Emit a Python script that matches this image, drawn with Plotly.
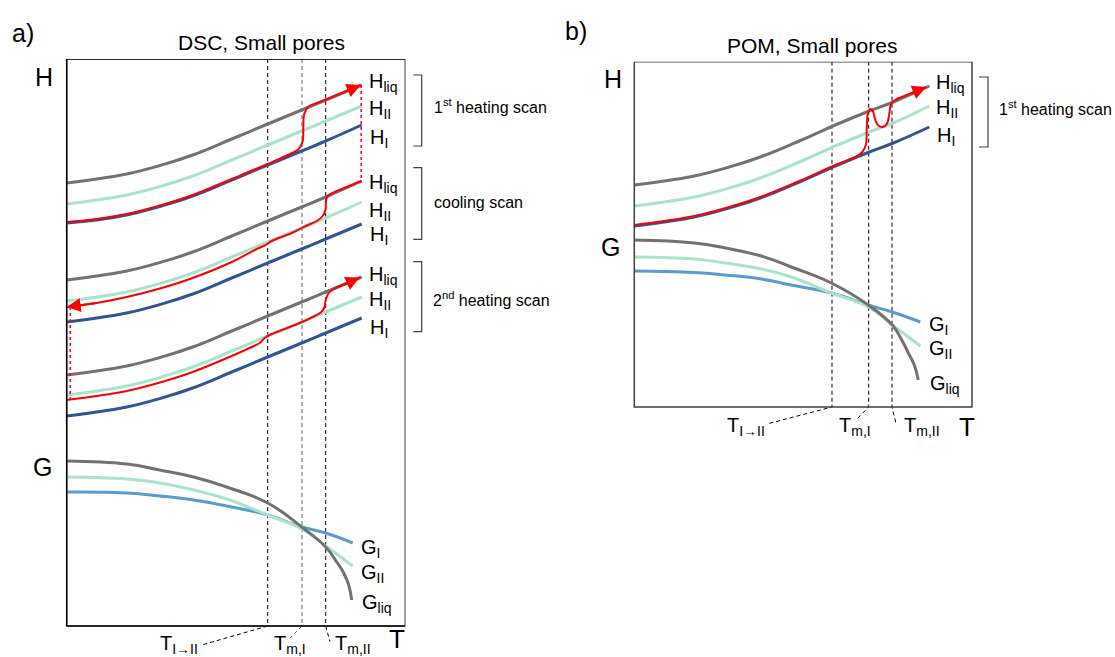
import plotly.graph_objects as go

W, H = 1115, 657
FONT = "Arial, Liberation Sans, sans-serif"

# ---------------- data: panel a (DSC) ----------------
T_H = [0, 30, 60, 95, 126, 165, 201, 235, 259, 295]
a1_liq = [443, 447, 452, 461, 471, 487, 502, 516, 526, 541]
a1_II = [422, 426, 431, 440, 450, 466, 481, 495, 505, 520]
a1_I = [403, 406, 411, 420, 430, 446, 461, 475, 485, 501]
a2_liq = [346, 350, 355, 364, 374, 390, 405, 419, 429, 445]
a2_II = [325, 329, 334, 343, 353, 369, 384, 398, 408, 424]
a2_I = [304, 308, 313, 322, 332, 348, 363, 377, 387, 402]
a3_liq = [251, 255, 260, 269, 279, 295, 310, 324, 334, 349]
a3_II = [231, 235, 240, 249, 259, 275, 290, 304, 314, 329]
a3_I = [210, 214, 219, 228, 238, 254, 269, 283, 293, 308]

# red measured paths (1st heating, cooling, 2nd heating)
T_r1 = [0, 30, 60, 95, 126, 165, 201, 220, 232, 236, 236.6, 237.5, 241.6, 251.6, 276.6, 294]
r1 = [404, 407, 412, 421, 431, 447, 462, 470.5, 477, 485, 499, 512, 519.3, 523.5, 533.5, 541]
T_r2 = [295, 280, 266, 261, 259.3, 258.8, 256, 250, 240, 225, 205, 198, 190, 165, 126, 95, 60, 30, 0]
r2 = [445, 439, 433, 430, 425, 416, 410, 405, 400.5, 393, 385, 380.5, 377, 364, 348, 338, 329, 323, 319]
T_r3 = [0, 30, 60, 95, 126, 165, 185, 193, 198, 203, 218, 233, 248, 254, 257.5, 259, 262, 268, 280, 293]
r3 = [226, 230, 235, 244, 254, 270, 279, 283, 288, 291, 297, 303, 310, 313.5, 318, 326, 333, 337.5, 342.5, 348.5]
jump_T = [294.5, 3.5]

T_Gliq_a = [0, 60, 93, 127, 160, 201, 235, 259, 270, 277, 282, 285]
Gliq_a = [165, 162, 156, 149, 139, 123, 99, 79, 64, 53, 41, 26]
T_Gs_a = [0, 60, 93, 127, 160, 201, 235, 259, 286]
GII_a = [149, 147, 143, 136, 127, 111, 97, 80, 60]
GI_a = [134, 133, 130, 126, 120, 111, 99, 93, 83]

Ta = [201, 235.3, 259]
Ta_lab_T = [135, 223.3, 263.3]
Ta_lab_Y = [-19, -12.3, -15.7]
Ya_top = 567

# ---------------- data: panel b (POM) ----------------
b_liq = [222, 226, 231, 240, 250, 266, 282, 296, 305, 321]
b_II = [201, 205, 210, 219, 229, 245, 261, 275, 284, 301]
b_I = [181, 185, 190, 199, 209, 225, 241, 255, 264, 280]
T_rb = [0, 30, 60, 95, 126, 165, 200, 214, 222, 228, 231.5, 232.5, 233.5, 236, 238.5,
        241, 244, 248.5, 252.5, 255, 256.5, 260, 275, 292]
rb = [182, 186, 191, 200, 210, 226, 241.5, 247, 250.5, 255, 262, 280, 293, 298, 296,
      287, 281.5, 280, 283, 293, 302, 306.5, 313, 320]

T_Gliq_b = [0, 60, 91, 127, 157, 197, 234, 258, 268, 274, 280, 284]
Gliq_b = [167, 164, 159, 151, 140, 124, 102, 82, 66, 54, 42, 27]
T_Gs_b = [0, 60, 91, 127, 157, 197, 234, 258, 286]
GII_b = [150, 148, 144, 138, 130, 114, 100, 82, 61]
GI_b = [136, 134.5, 132, 128, 122, 114, 102, 95, 85]

Tb = [197.7, 234.4, 257.7]
Tb_lab_T = [132.4, 222.4, 261.7]
Tb_lab_Y = [-17, -12.3, -16.3]
Yb_top = 345.3

# ---------------- styles ----------------
C_LIQ = "#767171"
C_II = "#a6e5cc"
C_I = "#2f5597"
C_GI = "#5b9bd5"
C_RED = "#ff0000"

fig = go.Figure()


def line(x, y, color, width=3, ax="", dash=None, shape="spline", smooth=1.3):
    fig.add_trace(go.Scatter(
        x=x, y=y, mode="lines", xaxis="x" + ax, yaxis="y" + ax,
        line=dict(color=color, width=width, shape=shape,
                  smoothing=smooth if shape == "spline" else None, dash=dash),
        hoverinfo="skip", showlegend=False))


# dashed temperature markers with leader lines
for i, t in enumerate(Ta):
    col = "#606060" if i == 1 else "#000000"
    line([t, t, Ta_lab_T[i]], [Ya_top, 0, Ta_lab_Y[i]], col, 1, "", "4px,3px", "linear")
for i, t in enumerate(Tb):
    line([t, t, Tb_lab_T[i]], [Yb_top, 0, Tb_lab_Y[i]], "#000000", 1, "2", "4px,3px", "linear")

# panel a H curves
for liq, II, I in [(a1_liq, a1_II, a1_I), (a2_liq, a2_II, a2_I), (a3_liq, a3_II, a3_I)]:
    line(T_H, liq, C_LIQ)
    line(T_H, II, C_II)
    line(T_H, I, C_I)
# panel a G curves
line(T_Gs_a, GI_a, C_GI)
line(T_Gs_a, GII_a, C_II)
line(T_Gliq_a, Gliq_a, C_LIQ)

# panel b
line(T_H, b_liq, C_LIQ, ax="2")
line(T_H, b_II, C_II, ax="2")
line(T_H, b_I, C_I, ax="2")
line(T_Gs_b, GI_b, C_GI, ax="2")
line(T_Gs_b, GII_b, C_II, ax="2")
line(T_Gliq_b, Gliq_b, C_LIQ, ax="2")

# red measured paths
line([jump_T[0]] * 2, [r1[-1], r2[0]], C_RED, 1.5, "", "dot", "linear")
line([jump_T[1]] * 2, [r2[-1], r3[0]], C_RED, 1.5, "", "dot", "linear")
line(T_r1, r1, C_RED, 2, smooth=1.0)
line(T_r2, r2, C_RED, 2, smooth=1.0)
line(T_r3, r3, C_RED, 2, smooth=1.0)
line(T_rb, rb, C_RED, 2, ax="2", smooth=1.0)

ann = []


def arrow(tx, ty, ax_):
    ann.append(dict(x=tx[-1], y=ty[-1], ax=tx[-2], ay=ty[-2], xref="x" + ax_, yref="y" + ax_,
                    axref="x" + ax_, ayref="y" + ax_, text="", showarrow=True,
                    arrowhead=2, arrowsize=1.4, arrowwidth=2, arrowcolor=C_RED))


arrow(T_r1, r1, "")
arrow(T_r2, r2, "")
arrow(T_r3, r3, "")
arrow(T_rb, rb, "2")


def dtext(text, x, y, ax_="", size=20, xanchor="left"):
    ann.append(dict(text=text, x=x, y=y, xref="x" + ax_, yref="y" + ax_, showarrow=False,
                    xanchor=xanchor, yanchor="middle", font=dict(size=size, color="black", family=FONT)))


def ptext(text, px, py, size=20, xanchor="left"):
    ann.append(dict(text=text, x=px / W, y=1 - py / H, xref="paper", yref="paper", showarrow=False,
                    xanchor=xanchor, yanchor="middle", font=dict(size=size, color="black", family=FONT)))


# curve labels panel a
for txt, x, y in [("H<sub>liq</sub>", 300.3, 544), ("H<sub>II</sub>", 300.3, 517), ("H<sub>I</sub>", 301.5, 488),
                  ("H<sub>liq</sub>", 300.3, 443), ("H<sub>II</sub>", 300.3, 415), ("H<sub>I</sub>", 301.5, 391),
                  ("H<sub>liq</sub>", 300.3, 351), ("H<sub>II</sub>", 300.3, 326), ("H<sub>I</sub>", 301.5, 298),
                  ("G<sub>I</sub>", 292.5, 78), ("G<sub>II</sub>", 292.5, 53), ("G<sub>liq</sub>", 293, 23)]:
    dtext(txt, x, y)
# curve labels panel b
for txt, x, y in [("H<sub>liq</sub>", 299.7, 323.5), ("H<sub>II</sub>", 299.7, 298.5), ("H<sub>I</sub>", 300.7, 270.5),
                  ("G<sub>I</sub>", 292.7, 81.5), ("G<sub>II</sub>", 292.7, 57.5), ("G<sub>liq</sub>", 293.7, 22.5)]:
    dtext(txt, x, y, "2")

# temperature labels
dtext("T<sub>I→II</sub>", 133.3, -18.5, xanchor="right")
dtext("T<sub>m,I</sub>", 205.3, -18.5)
dtext("T<sub>m,II</sub>", 266.3, -18.5)
dtext("T<sub>I→II</sub>", 132.7, -19.5, "2", xanchor="right")
dtext("T<sub>m,I</sub>", 202.7, -19.5, "2")
dtext("T<sub>m,II</sub>", 267.7, -19.5, "2")

# paper texts
ptext("a)", 10, 33, 25)
ptext("b)", 563, 31, 25)
ptext("DSC, Small pores", 261, 43, 21, "center")
ptext("POM, Small pores", 812, 45, 21, "center")
ptext("H", 33, 77, 25)
ptext("G", 31, 467, 25)
ptext("T", 387, 639, 26)
ptext("H", 602, 79, 25)
ptext("G", 599, 247, 25)
ptext("T", 957, 427, 26)
ptext("1<sup>st</sup> heating scan", 432, 106, 16)
ptext("cooling scan", 432, 203, 16)
ptext("2<sup>nd</sup> heating scan", 431, 299, 16)
ptext("1<sup>st</sup> heating scan", 997, 108, 16)

shapes = []
# frames
shapes.append(dict(type="rect", xref="x domain", yref="y", x0=0, x1=1, y0=0, y1=Ya_top,
                   line=dict(color="#7f7f7f", width=1.5)))
for x0, x1, y0, y1 in [(0, 0, 0, Ya_top), (0, 1, 0, 0), (0, 1, Ya_top, Ya_top)]:
    shapes.append(dict(type="line", xref="x domain", yref="y", x0=x0, x1=x1, y0=y0, y1=y1,
                       line=dict(color="#000000", width=1.5)))
shapes.append(dict(type="rect", xref="x2 domain", yref="y2", x0=0, x1=1, y0=0, y1=Yb_top,
                   line=dict(color="#404040", width=1.5)))

# brackets
for x0, x1, y0, y1 in [(413.3, 421.7, 75, 146), (413.3, 421.7, 167.7, 239.3), (413.3, 421.7, 261.7, 331.7),
                       (979, 988, 77, 147)]:
    path = "M {a},{b} L {c},{b} L {c},{d} L {a},{d}".format(
        a=x0 / W, b=1 - y0 / H, c=x1 / W, d=1 - y1 / H)
    shapes.append(dict(type="path", xref="paper", yref="paper", path=path,
                       line=dict(color="#404040", width=1.2)))

ax_common = dict(visible=False, showgrid=False, zeroline=False, fixedrange=True)
fig.update_layout(
    width=W, height=H, margin=dict(l=0, r=0, t=0, b=0),
    paper_bgcolor="white", plot_bgcolor="white",
    font=dict(family=FONT, color="black"),
    xaxis=dict(domain=[66.7 / W, 405 / W], range=[0, 338.3], **ax_common),
    yaxis=dict(domain=[0, (H - 59) / H], range=[-31, Ya_top], **ax_common),
    xaxis2=dict(domain=[634.3 / W, 972 / W], range=[0, 337.7], anchor="y2", **ax_common),
    yaxis2=dict(domain=[(H - 440) / H, (H - 61.7) / H], range=[-33, Yb_top], anchor="x2", **ax_common),
    annotations=ann, shapes=shapes, showlegend=False,
)

fig.write_html("out.html", config={"displayModeBar": False},
               post_script="document.body.style.margin='0';document.body.style.overflow='hidden';")
